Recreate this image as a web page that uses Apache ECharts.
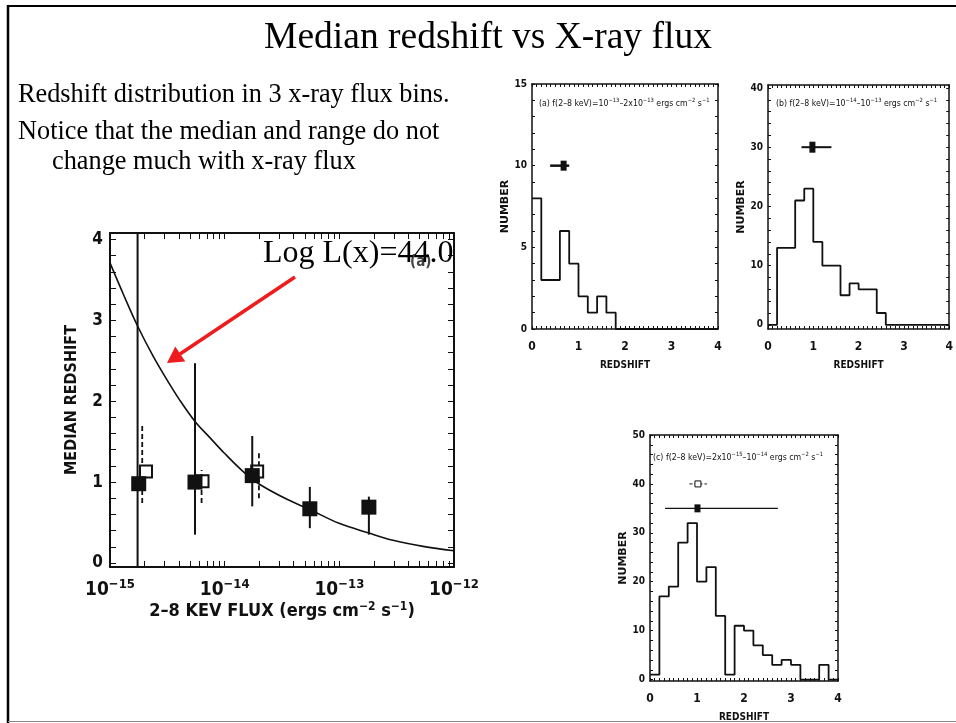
<!DOCTYPE html>
<html><head><meta charset="utf-8">
<script src="https://cdn.jsdelivr.net/npm/echarts@6/dist/echarts.min.js"></script>
<style>html,body{margin:0;padding:0;background:#fff}#c{width:956px;height:723px}</style>
</head><body><div id="c"></div>
<script>
// ---------- main panel: median redshift vs 2-8 keV flux ----------
const fluxFilled    = [1.78e-15, 5.51e-15, 1.74e-14, 5.53e-14, 1.81e-13];
const zFilled       = [0.98, 1.00, 1.08, 0.67, 0.69];
const fluxFilledErr = [1.74e-15, 5.51e-15, 1.74e-14, 5.53e-14, 1.81e-13];
const zFilledLo     = [-0.05, 0.35, 0.70, 0.43, 0.35];
const zFilledHi     = [4.10, 2.47, 1.57, 0.94, 0.82];

const fluxOpen      = [2.06e-15, 6.41e-15, 1.92e-14];
const zOpen         = [1.13, 1.01, 1.13];
const fluxOpenErr   = [1.91e-15, 6.29e-15, 1.99e-14];
const zOpenLo       = [0.74, 0.74, 0.80];
const zOpenHi       = [1.73, 1.15, 1.36];

// Log L(x)=44.0 track
const fluxCurve = [1.0e-15, 1.31e-15, 1.74e-15, 2.39e-15, 3.12e-15, 4.07e-15, 5.51e-15, 7.43e-15, 9.9e-15,
                   1.45e-14, 2.03e-14, 3.46e-14, 5.53e-14, 9.95e-14, 1.81e-13, 2.94e-13, 5.37e-13, 1.0e-12];
const zCurve    = [3.71, 3.32, 2.93, 2.55, 2.27, 2.01, 1.75, 1.55, 1.36,
                   1.13, 0.97, 0.79, 0.66, 0.49, 0.37, 0.28, 0.205, 0.15];

const mainXLabelVals = [1e-15, 1e-14, 1e-13, 1e-12];
const mainXMantissas = [1, 2, 3, 4, 5, 6, 7, 8, 9];
const mainYLabelVals = [0, 1, 2, 3, 4];
const mainYTickVals  = [0,0.2,0.4,0.6,0.8,1,1.2,1.4,1.6,1.8,2,2.2,2.4,2.6,2.8,3,3.2,3.4,3.6,3.8,4];

// ---------- redshift histograms (bins of 0.2) ----------
const binEdges = [0,0.2,0.4,0.6,0.8,1.0,1.2,1.4,1.6,1.8,2.0,2.2,2.4,2.6,2.8,3.0,3.2,3.4,3.6,3.8,4.0];
const countsA  = [8,3,3,6,4,2,1,2,1,0,0,0,0,0,0,0,0,0,0,0];
const countsB  = [0,13,13,21,23,14,10,10,5,7,6,6,2,0,0,0,0,0,0,0];
const countsC  = [1,17,19,28,32,20,23,13,1,11,10,7,5,3,4,3,0,0,3,0];

// medians with ranges (filled) per panel a,b,c
const medZ  = [0.68, 0.98, 1.01];
const medLo = [0.39, 0.74, 0.32];
const medHi = [0.80, 1.40, 2.72];
const medN  = [10, 30, 35];
// open-symbol median in panel c
const openMedZ = [1.02], openMedLo = [0.84], openMedHi = [1.21], openMedN = [40];

const histXLabels = [0, 1, 2, 3, 4];
const histXTicks  = [0,0.1,0.2,0.3,0.4,0.5,0.6,0.7,0.8,0.9,1,1.1,1.2,1.3,1.4,1.5,1.6,1.7,1.8,1.9,2,2.1,2.2,2.3,2.4,2.5,2.6,2.7,2.8,2.9,3,3.1,3.2,3.3,3.4,3.5,3.6,3.7,3.8,3.9,4];
const yLabelsA = [0, 5, 10, 15];
const yTicksA  = [0,1,2,3,4,5,6,7,8,9,10,11,12,13,14,15];
const yLabelsB = [0, 10, 20, 30, 40];
const yTicksB  = [0,2,4,6,8,10,12,14,16,18,20,22,24,26,28,30,32,34,36,38,40];
const yLabelsC = [0, 10, 20, 30, 40, 50];
const yTicksC  = [0,2,4,6,8,10,12,14,16,18,20,22,24,26,28,30,32,34,36,38,40,42,44,46,48,50];

// ---------------------------------------------------------------
const INK = '#111';
const IDL = '"DejaVu Sans Condensed","Liberation Sans Narrow","DejaVu Sans",sans-serif';
const SERIF = '"Liberation Serif","Times New Roman",serif';

const mainXTickVals = [];
mainXLabelVals.slice(0, 3).forEach(d => mainXMantissas.forEach(m => mainXTickVals.push(m * d)));
mainXTickVals.push(1e-12);

function makeAxis(o) {
  const ax = {
    gridIndex: o.grid, position: o.pos, type: o.type || 'value',
    min: o.min, max: o.max,
    axisLine: {show: true, onZero: false, lineStyle: {color: INK, width: o.lineW || 1.5}},
    axisTick: {show: true, inside: true, length: o.tickLen || 3, customValues: o.ticks,
               lineStyle: {color: INK, width: o.tickW || 1}},
    axisLabel: o.labels ? Object.assign({show: true, customValues: o.labels}, o.labelStyle) : {show: false},
    splitLine: {show: false},
    minorTick: {show: false}
  };
  if (o.type === 'log') ax.logBase = 10;
  if (o.name) Object.assign(ax, {name: o.name, nameLocation: 'middle', nameGap: o.nameGap,
                                 nameRotate: o.nameRotate || 0, nameTextStyle: o.nameStyle});
  return ax;
}

const histLabel = {fontFamily: IDL, fontSize: 12, fontWeight: 'bold', color: INK, margin: 12};
const histName  = {fontFamily: IDL, fontSize: 10, fontWeight: 'bold', color: INK};

const xAxes = [
  makeAxis({grid: 0, pos: 'bottom', type: 'log', min: 1e-15, max: 1e-12, ticks: mainXTickVals, tickLen: 6, lineW: 2,
    labels: mainXLabelVals,
    labelStyle: {margin: 11, color: INK,
      formatter: v => '{b|10}{s|−' + Math.round(-Math.log10(v)) + '}',
      rich: {b: {fontFamily: IDL, fontSize: 19, fontWeight: 'bold', color: INK, lineHeight: 24},
             s: {fontFamily: IDL, fontSize: 13, fontWeight: 'bold', color: INK, lineHeight: 13, verticalAlign: 'top'}}},
    name: '{n|2–8 KEV FLUX (ergs cm}{s|−2}{n| s}{s|−1}{n|)}', nameGap: 30,
    nameStyle: {rich: {n: {fontFamily: IDL, fontSize: 18, fontWeight: 'bold', color: INK, lineHeight: 22},
                       s: {fontFamily: IDL, fontSize: 12, fontWeight: 'bold', color: INK, lineHeight: 12, verticalAlign: 'top'}}}}),
  makeAxis({grid: 0, pos: 'top', type: 'log', min: 1e-15, max: 1e-12, ticks: mainXTickVals, tickLen: 6, lineW: 2}),
  makeAxis({grid: 1, pos: 'bottom', min: 0, max: 4, ticks: histXTicks, labels: histXLabels, labelStyle: histLabel,
    name: 'REDSHIFT', nameGap: 31, nameStyle: histName}),
  makeAxis({grid: 1, pos: 'top', min: 0, max: 4, ticks: histXTicks}),
  makeAxis({grid: 2, pos: 'bottom', min: 0, max: 4, ticks: histXTicks, labels: histXLabels, labelStyle: histLabel,
    name: 'REDSHIFT', nameGap: 31, nameStyle: histName}),
  makeAxis({grid: 2, pos: 'top', min: 0, max: 4, ticks: histXTicks}),
  makeAxis({grid: 3, pos: 'bottom', min: 0, max: 4, ticks: histXTicks, labels: histXLabels, labelStyle: histLabel,
    name: 'REDSHIFT', nameGap: 31, nameStyle: histName}),
  makeAxis({grid: 3, pos: 'top', min: 0, max: 4, ticks: histXTicks})
];

const histYLabel = {fontFamily: IDL, fontSize: 10, fontWeight: 'bold', color: INK, margin: 5};
const numName = {fontFamily: '"DejaVu Sans",sans-serif', fontSize: 11, fontWeight: 'bold', color: INK};
const yAxes = [
  makeAxis({grid: 0, pos: 'left', min: -0.05, max: 4.08, ticks: mainYTickVals, tickLen: 6, lineW: 2,
    labels: mainYLabelVals, labelStyle: {fontFamily: IDL, fontSize: 17, fontWeight: 'bold', color: INK, margin: 7},
    name: 'MEDIAN REDSHIFT', nameGap: 30, nameRotate: 90,
    nameStyle: {fontFamily: IDL, fontSize: 16, fontWeight: 'bold', color: INK}}),
  makeAxis({grid: 0, pos: 'right', min: -0.05, max: 4.08, ticks: mainYTickVals, tickLen: 6, lineW: 2}),
  makeAxis({grid: 1, pos: 'left', min: 0, max: 15, ticks: yTicksA, labels: yLabelsA, labelStyle: histYLabel,
    name: 'NUMBER', nameGap: 11, nameRotate: 90, nameStyle: numName}),
  makeAxis({grid: 1, pos: 'right', min: 0, max: 15, ticks: yTicksA}),
  makeAxis({grid: 2, pos: 'left', min: -0.7, max: 40.5, ticks: yTicksB, labels: yLabelsB, labelStyle: histYLabel,
    name: 'NUMBER', nameGap: 12, nameRotate: 90, nameStyle: numName}),
  makeAxis({grid: 2, pos: 'right', min: -0.7, max: 40.5, ticks: yTicksB}),
  makeAxis({grid: 3, pos: 'left', min: -0.3, max: 50, ticks: yTicksC, labels: yLabelsC, labelStyle: histYLabel,
    name: 'NUMBER', nameGap: 14, nameRotate: 90, nameStyle: numName}),
  makeAxis({grid: 3, pos: 'right', min: -0.3, max: 50, ticks: yTicksC})
];

function vBar(dashed, w) {
  return function (params, api) {
    const a = api.coord([api.value(0), api.value(1)]);
    const b = api.coord([api.value(0), api.value(2)]);
    return {type: 'line', shape: {x1: a[0], y1: a[1], x2: b[0], y2: b[1]},
            style: {stroke: INK, lineWidth: w, lineDash: dashed ? [5, 3] : null}};
  };
}
function hBar(dashed, w) {
  return function (params, api) {
    const a = api.coord([api.value(0), api.value(2)]);
    const b = api.coord([api.value(1), api.value(2)]);
    return {type: 'line', shape: {x1: a[0], y1: a[1], x2: b[0], y2: b[1]},
            style: {stroke: INK, lineWidth: w, lineDash: dashed ? [3, 2] : null}};
  };
}
function stepData(counts) {
  const d = counts.map((c, i) => [binEdges[i], c]);
  d.push([binEdges[counts.length], counts[counts.length - 1]]);
  return d;
}
function hist(idx, counts) {
  return {type: 'line', xAxisIndex: idx, yAxisIndex: idx, data: stepData(counts), step: 'end',
          symbol: 'none', lineStyle: {color: INK, width: 1.8}, clip: true, silent: true, z: 3};
}
function sq(color, border, bw) {
  return {color: color, borderColor: border, borderWidth: bw, opacity: 1};
}

const series = [
  {type: 'line', xAxisIndex: 0, yAxisIndex: 0, data: fluxCurve.map((f, i) => [f, zCurve[i]]),
   smooth: 0.35, symbol: 'none', lineStyle: {color: INK, width: 1.6}, silent: true, z: 2},
  {type: 'custom', xAxisIndex: 0, yAxisIndex: 0, clip: true, encode: {x: 0, y: [1, 2]},
   data: fluxOpenErr.map((f, i) => [f, zOpenLo[i], zOpenHi[i]]), renderItem: vBar(true, 1.8), z: 3},
  {type: 'scatter', xAxisIndex: 0, yAxisIndex: 0, data: fluxOpen.map((f, i) => [f, zOpen[i]]),
   symbol: 'rect', symbolSize: 12, itemStyle: sq('#fff', INK, 2), z: 4},
  {type: 'custom', xAxisIndex: 0, yAxisIndex: 0, clip: true, encode: {x: 0, y: [1, 2]},
   data: fluxFilledErr.map((f, i) => [f, zFilledLo[i], zFilledHi[i]]), renderItem: vBar(false, 2), z: 5},
  {type: 'scatter', xAxisIndex: 0, yAxisIndex: 0, data: fluxFilled.map((f, i) => [f, zFilled[i]]),
   symbol: 'rect', symbolSize: 15, itemStyle: sq(INK, INK, 0), z: 6},

  hist(2, countsA), hist(4, countsB), hist(6, countsC),

  {type: 'custom', xAxisIndex: 2, yAxisIndex: 2, encode: {x: [0, 1], y: 2},
   data: [[medLo[0], medHi[0], medN[0]]], renderItem: hBar(false, 2.5), z: 4},
  {type: 'scatter', xAxisIndex: 2, yAxisIndex: 2, data: [[medZ[0], medN[0]]],
   symbol: 'rect', symbolSize: [6, 10], itemStyle: sq(INK, INK, 0), z: 5},
  {type: 'custom', xAxisIndex: 4, yAxisIndex: 4, encode: {x: [0, 1], y: 2},
   data: [[medLo[1], medHi[1], medN[1]]], renderItem: hBar(false, 2), z: 4},
  {type: 'scatter', xAxisIndex: 4, yAxisIndex: 4, data: [[medZ[1], medN[1]]],
   symbol: 'rect', symbolSize: [6, 11], itemStyle: sq(INK, INK, 0), z: 5},
  {type: 'custom', xAxisIndex: 6, yAxisIndex: 6, encode: {x: [0, 1], y: 2},
   data: [[openMedLo[0], openMedHi[0], openMedN[0]]], renderItem: hBar(true, 1), z: 4},
  {type: 'scatter', xAxisIndex: 6, yAxisIndex: 6, data: [[openMedZ[0], openMedN[0]]],
   symbol: 'rect', symbolSize: 6, itemStyle: sq('#fff', INK, 1), z: 5},
  {type: 'custom', xAxisIndex: 6, yAxisIndex: 6, encode: {x: [0, 1], y: 2},
   data: [[medLo[2], medHi[2], medN[2]]], renderItem: hBar(false, 1.2), z: 4},
  {type: 'scatter', xAxisIndex: 6, yAxisIndex: 6, data: [[medZ[2], medN[2]]],
   symbol: 'rect', symbolSize: [6, 8], itemStyle: sq(INK, INK, 0), z: 5}
];

const supRich = {
  n: {fontFamily: IDL, fontSize: 8.7, color: INK, lineHeight: 13},
  s: {fontFamily: IDL, fontSize: 5.8, color: INK, lineHeight: 7, verticalAlign: 'top'}
};
function panelLabel(x, y, txt) {
  return {type: 'text', left: x, top: y, z: 50, style: {text: txt, rich: supRich, fill: INK}};
}

const graphic = [
  // slide frame
  {type: 'line', z: 100, shape: {x1: 7, y1: 6, x2: 956, y2: 6}, style: {stroke: '#000', lineWidth: 2}},
  {type: 'line', z: 100, shape: {x1: 8, y1: 5, x2: 8, y2: 723}, style: {stroke: '#000', lineWidth: 2.5}},
  {type: 'line', z: 100, shape: {x1: 8, y1: 721.5, x2: 956, y2: 721.5}, style: {stroke: '#8a8a8a', lineWidth: 1}},
  // title and body text
  {type: 'text', x: 488, y: 38, z: 50, style: {text: 'Median redshift vs X-ray flux', font: '37.5px ' + SERIF,
    fill: '#000', align: 'center', verticalAlign: 'middle'}},
  {type: 'text', x: 18, y: 95, z: 50, style: {text: 'Redshift distribution in 3 x-ray flux bins.', font: '26.3px ' + SERIF,
    fill: '#000', verticalAlign: 'middle'}},
  {type: 'text', x: 18, y: 132, z: 50, style: {text: 'Notice that the median and range do not', font: '26.3px ' + SERIF,
    fill: '#000', verticalAlign: 'middle'}},
  {type: 'text', x: 52, y: 162, z: 50, style: {text: 'change much with x-ray flux', font: '26.3px ' + SERIF,
    fill: '#000', verticalAlign: 'middle'}},
  // main-panel annotations
  {type: 'text', x: 410, y: 262, z: 40, style: {text: '(a)', font: 'bold 15px ' + IDL, fill: '#444', verticalAlign: 'middle'}},
  {type: 'text', x: 263, y: 254, z: 50, style: {text: 'Log L(x)=44.0', font: '32px ' + SERIF, fill: '#000', verticalAlign: 'middle'}},
  {type: 'line', z: 60, shape: {x1: 295, y1: 277, x2: 180, y2: 354}, style: {stroke: '#ee1c1c', lineWidth: 3.5}},
  {type: 'polygon', z: 60, shape: {points: [[167, 363], [185.3, 361.6], [175.3, 346.6]]}, style: {fill: '#ee1c1c'}},
  // histogram panel labels
  panelLabel(539, 97, '{n|(a) f(2–8 keV)=10}{s|−13}{n|–2x10}{s|−13}{n| ergs cm}{s|−2}{n| s}{s|−1}'),
  panelLabel(776, 97, '{n|(b) f(2–8 keV)=10}{s|−14}{n|–10}{s|−13}{n| ergs cm}{s|−2}{n| s}{s|−1}'),
  panelLabel(653, 451, '{n|(c) f(2–8 keV)=2x10}{s|−15}{n|–10}{s|−14}{n| ergs cm}{s|−2}{n| s}{s|−1}')
];

const chart = echarts.init(document.getElementById('c'));
chart.setOption({
  animation: false,
  backgroundColor: '#fff',
  grid: [
    {left: 110, top: 233, width: 344, height: 334},
    {left: 532, top: 84, width: 186, height: 245},
    {left: 768, top: 85, width: 186, height: 244},
    {left: 650, top: 435, width: 188, height: 249}
  ],
  xAxis: xAxes,
  yAxis: yAxes,
  series: series,
  graphic: graphic
});
</script>
</body></html>
